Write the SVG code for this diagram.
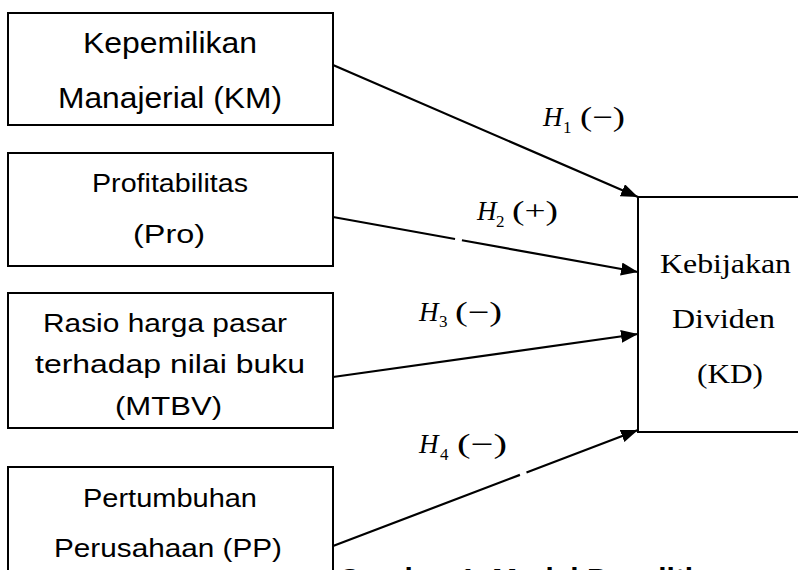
<svg xmlns="http://www.w3.org/2000/svg" width="798" height="570" viewBox="0 0 798 570">
<defs>
<style>
.box{fill:#fff;stroke:#000;stroke-width:2}
.lbl{font-family:"Liberation Sans",Arial,sans-serif;fill:#000}
.kd{font-family:"Liberation Serif","Times New Roman",serif;fill:#000}
.hm{font-family:"Liberation Serif","Times New Roman",serif;fill:#000}
.conn{stroke:#000;stroke-width:2.2;fill:none}
.cap{font-family:"Liberation Sans",Arial,sans-serif;font-weight:bold;fill:#000}
</style>
<marker id="ah" markerUnits="userSpaceOnUse" markerWidth="18" markerHeight="14" refX="17" refY="6.5" orient="auto">
<path d="M0,0 L17,6.5 L0,13 z" fill="#000"/>
</marker>
</defs>
<rect width="798" height="570" fill="#fff"/>

<g id="node-km">
<rect class="box" x="8" y="13" width="325" height="112"/>
<text class="lbl" font-size="30" x="83" y="53" textLength="174" lengthAdjust="spacingAndGlyphs">Kepemilikan</text>
<text class="lbl" font-size="30" x="58" y="108" textLength="224" lengthAdjust="spacingAndGlyphs">Manajerial (KM)</text>
</g>

<g id="node-pro">
<rect class="box" x="8" y="153" width="325" height="113"/>
<text class="lbl" font-size="26" x="92" y="192" textLength="156" lengthAdjust="spacingAndGlyphs">Profitabilitas</text>
<text class="lbl" font-size="26" x="133" y="243" textLength="72" lengthAdjust="spacingAndGlyphs">(Pro)</text>
</g>

<g id="node-mtbv">
<rect class="box" x="8" y="293" width="325" height="135"/>
<text class="lbl" font-size="26" x="43" y="332" textLength="244" lengthAdjust="spacingAndGlyphs">Rasio harga pasar</text>
<text class="lbl" font-size="26" x="35" y="373" textLength="270" lengthAdjust="spacingAndGlyphs">terhadap nilai buku</text>
<text class="lbl" font-size="26" x="115" y="415" textLength="107" lengthAdjust="spacingAndGlyphs">(MTBV)</text>
</g>

<g id="node-pp">
<rect class="box" x="8" y="467" width="325" height="120"/>
<text class="lbl" font-size="25" x="83" y="507" textLength="174" lengthAdjust="spacingAndGlyphs">Pertumbuhan</text>
<text class="lbl" font-size="25" x="54" y="557" textLength="228" lengthAdjust="spacingAndGlyphs">Perusahaan (PP)</text>
</g>

<g id="node-kd">
<rect class="box" x="638" y="197" width="180" height="235"/>
<text class="kd" font-size="27" x="660" y="273" textLength="131" lengthAdjust="spacingAndGlyphs">Kebijakan</text>
<text class="kd" font-size="27" x="672" y="328" textLength="103" lengthAdjust="spacingAndGlyphs">Dividen</text>
<text class="kd" font-size="27" x="697" y="383" textLength="66" lengthAdjust="spacingAndGlyphs">(KD)</text>
</g>

<g id="connectors">
<line class="conn" x1="333" y1="65" x2="638" y2="197" marker-end="url(#ah)"/>
<line class="conn" x1="333" y1="217" x2="638" y2="272" stroke-dasharray="124 7 400" marker-end="url(#ah)"/>
<line class="conn" x1="333" y1="377" x2="638" y2="334" marker-end="url(#ah)"/>
<line class="conn" x1="333" y1="546" x2="638" y2="430" stroke-dasharray="200 7 400" marker-end="url(#ah)"/>
</g>

<g id="labels">
<text class="hm" font-size="27" font-style="italic" x="543" y="126">H</text>
<text class="hm" font-size="17" x="563" y="133">1</text>
<text class="hm" font-size="27" x="580" y="126" textLength="45" lengthAdjust="spacingAndGlyphs">(−)</text>

<text class="hm" font-size="27" font-style="italic" x="477" y="220">H</text>
<text class="hm" font-size="17" x="496" y="227">2</text>
<text class="hm" font-size="27" x="512" y="220" textLength="46" lengthAdjust="spacingAndGlyphs">(+)</text>

<text class="hm" font-size="27" font-style="italic" x="419" y="321">H</text>
<text class="hm" font-size="17" x="439" y="327">3</text>
<text class="hm" font-size="27" x="455" y="321" textLength="47" lengthAdjust="spacingAndGlyphs">(−)</text>

<text class="hm" font-size="27" font-style="italic" x="419" y="453">H</text>
<text class="hm" font-size="17" x="440" y="460">4</text>
<text class="hm" font-size="27" x="457" y="453" textLength="50" lengthAdjust="spacingAndGlyphs">(−)</text>
</g>

<text class="cap" font-size="30" x="338" y="588.5" textLength="390" lengthAdjust="spacingAndGlyphs">Gambar 1. Model Penelitian</text>
</svg>
